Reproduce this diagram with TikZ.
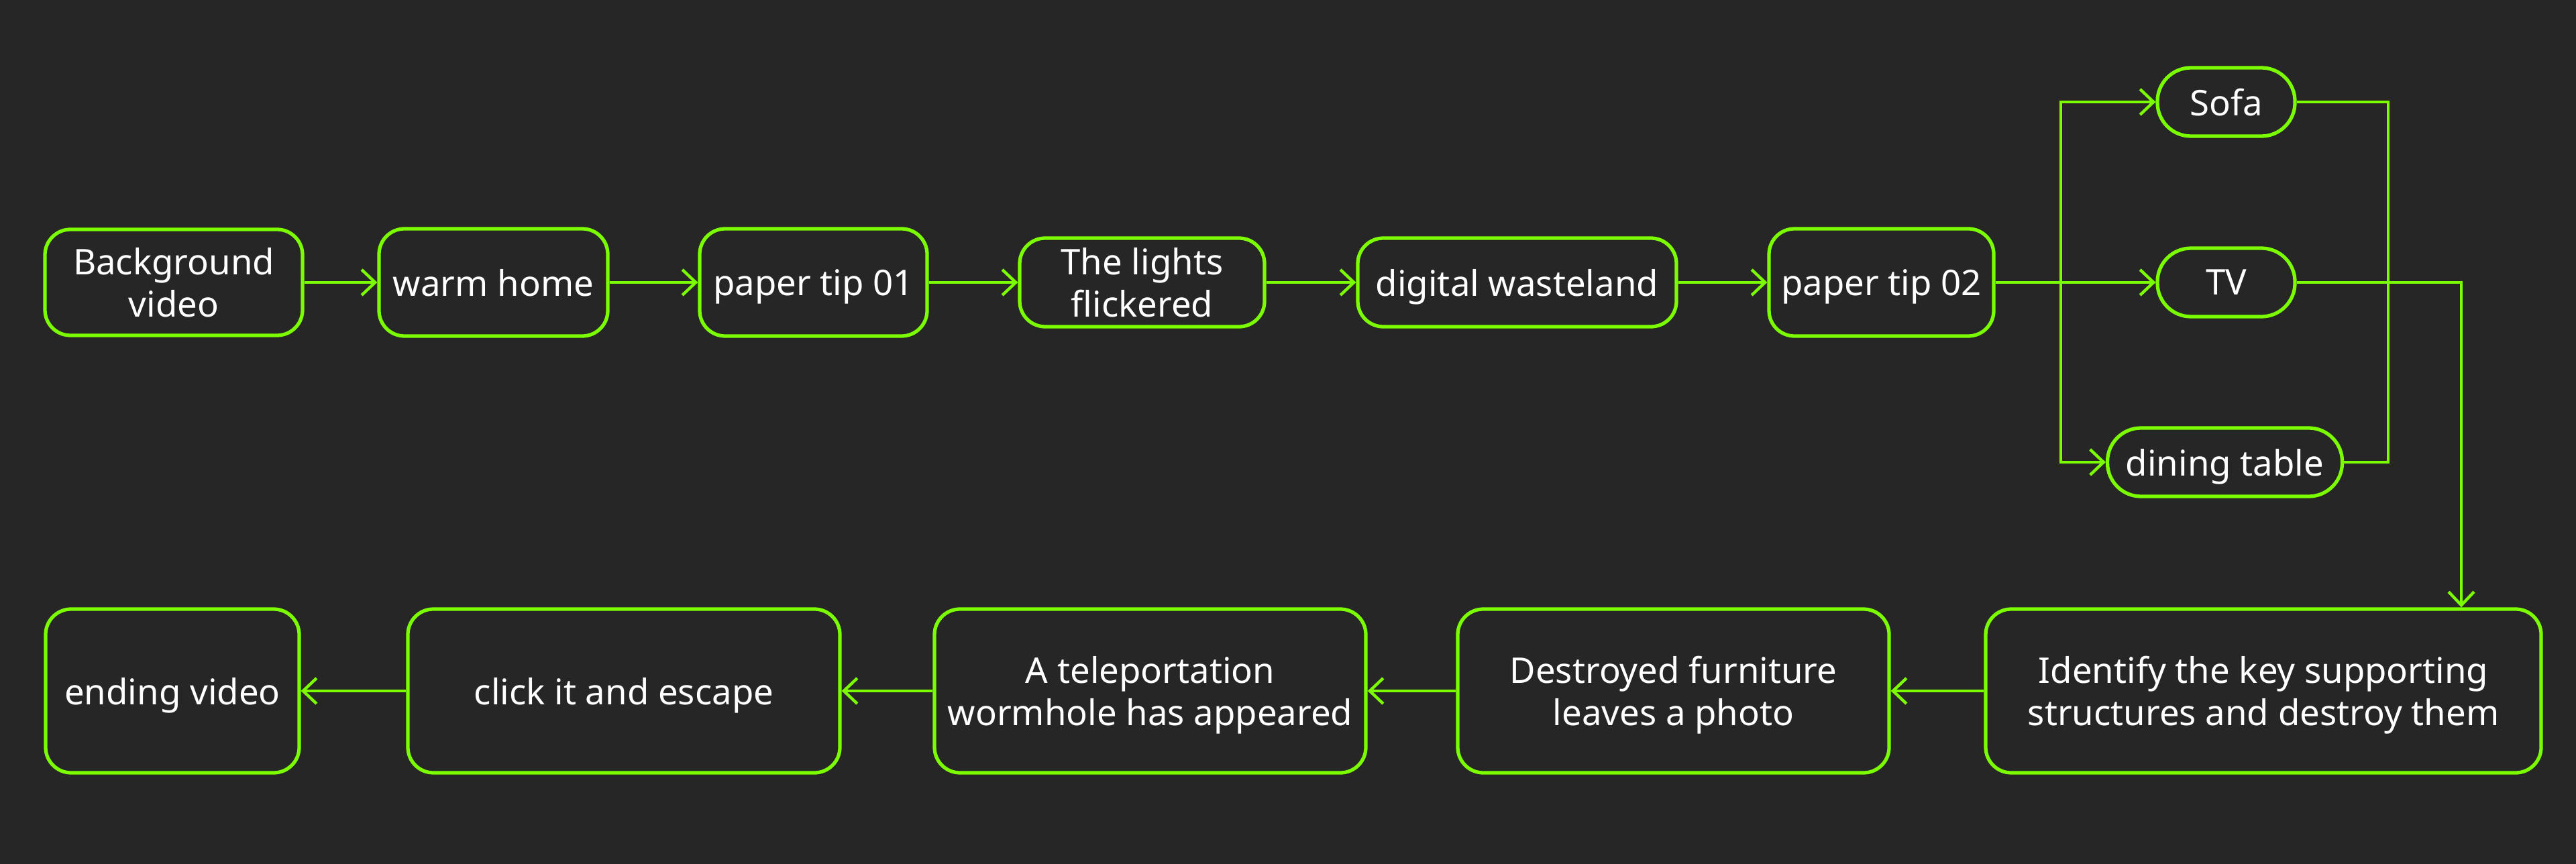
\documentclass[tikz,border=0pt]{standalone}
\usepackage{fontspec}
\setmainfont{Noto Sans}
\usetikzlibrary{arrows.meta,calc}
\definecolor{bgc}{HTML}{262626}
\definecolor{lime}{HTML}{7CFC00}
\tikzset{
  box/.style={draw=lime, line width=1.5pt, rounded corners=0.38cm, fill=bgc, text=white,
    align=center, inner sep=0pt, text depth=0pt, font=\fontsize{15}{18}\selectfont},
  pill/.style={box, rounded corners=0.5cm},
  conn/.style={draw=lime, line width=1.25pt},
  arr/.style={conn, -{Straight Barb[length=0.2cm, width=0.38cm, line width=1.25pt]}},
}
\begin{document}
\begin{tikzpicture}
\fill[bgc] (0,0) rectangle (38.4,-12.88);
\useasboundingbox (0,0) rectangle (38.4,-12.88);
% top row
\node[box, minimum width=3.84cm, minimum height=1.58cm] (bg) at (2.59,-4.21) {Background\\video};
\node[box, minimum width=3.41cm, minimum height=1.60cm] (warm) at (7.355,-4.21) {warm home};
\node[box, minimum width=3.39cm, minimum height=1.60cm] (tip1) at (12.125,-4.21) {paper tip 01};
\node[box, minimum width=3.65cm, minimum height=1.32cm] (lights) at (17.025,-4.21) {The lights\\flickered};
\node[box, minimum width=4.75cm, minimum height=1.32cm] (waste) at (22.615,-4.21) {digital wasteland};
\node[box, minimum width=3.35cm, minimum height=1.60cm] (tip2) at (28.045,-4.21) {paper tip 02};
\node[pill, minimum width=2.05cm, minimum height=1.02cm] (sofa) at (33.185,-1.52) {Sofa};
\node[pill, minimum width=2.05cm, minimum height=1.02cm] (tv) at (33.185,-4.21) {TV};
\node[pill, minimum width=3.50cm, minimum height=1.02cm] (dining) at (33.165,-6.89) {dining table};
% bottom row
\node[box, minimum width=3.78cm, minimum height=2.44cm] (ending) at (2.57,-10.30) {ending video};
\node[box, minimum width=6.44cm, minimum height=2.44cm] (click) at (9.30,-10.30) {click it and escape};
\node[box, minimum width=6.43cm, minimum height=2.44cm] (tele) at (17.145,-10.30) {A teleportation\\wormhole has appeared};
\node[box, minimum width=6.43cm, minimum height=2.44cm] (destr) at (24.945,-10.30) {Destroyed furniture\\leaves a photo};
\node[box, minimum width=8.28cm, minimum height=2.44cm] (ident) at (33.74,-10.30) {Identify the key supporting\\structures and destroy them};
% helper coordinates
\coordinate (split) at (30.72,-4.21);
\coordinate (mergex) at (35.60,0);
\coordinate (downx) at (36.69,0);
% connectors
\draw[arr] (bg) -- (warm);
\draw[arr] (warm) -- (tip1);
\draw[arr] (tip1) -- (lights);
\draw[arr] (lights) -- (waste);
\draw[arr] (waste) -- (tip2);
\draw[arr] (tip2.east) -- (tv.west);
\draw[arr] (split) |- (sofa.west);
\draw[arr] (split) |- (dining.west);
\draw[conn] (sofa.east) -| (mergex |- dining.east) -- (dining.east);
\draw[arr] (tv.east) -| (downx |- ident.north);
\draw[arr] (ident) -- (destr);
\draw[arr] (destr) -- (tele);
\draw[arr] (tele) -- (click);
\draw[arr] (click) -- (ending);
\end{tikzpicture}
\end{document}
